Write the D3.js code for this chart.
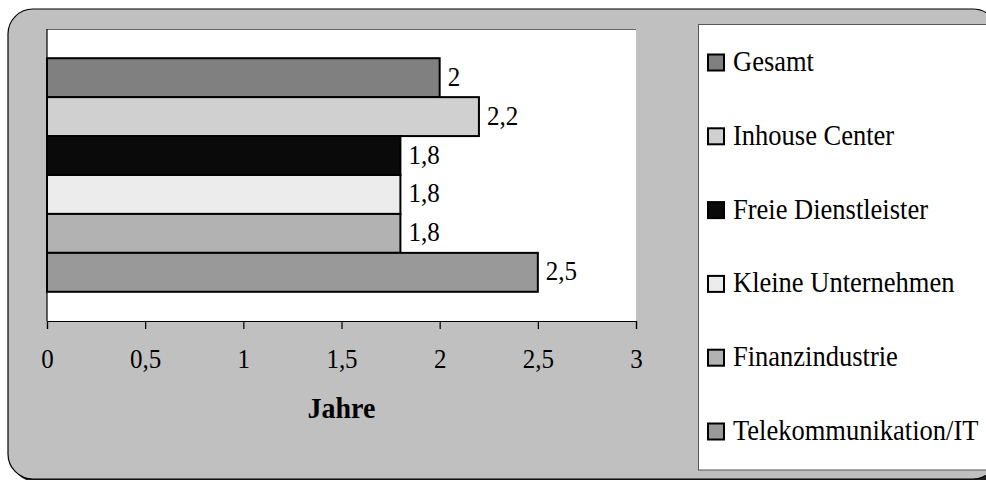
<!DOCTYPE html>
<html>
<head>
<meta charset="utf-8">
<script src="https://cdn.jsdelivr.net/npm/d3@7"></script>
<style>
  html, body { margin: 0; padding: 0; background: #ffffff; }
  svg { display: block; }
  text { font-family: "Liberation Serif", "Times New Roman", serif; fill: #000; }
</style>
</head>
<body>
<div id="chart"></div>
<script>
// ---- data ----
const categories = ["Gesamt", "Inhouse Center", "Freie Dienstleister", "Kleine Unternehmen", "Finanzindustrie", "Telekommunikation/IT"];
const values = [2, 2.2, 1.8, 1.8, 1.8, 2.5];
const colors = ["#808080", "#d0d0d0", "#0a0a0a", "#ececec", "#b2b2b2", "#999999"];
const xTicks = [0, 0.5, 1, 1.5, 2, 2.5, 3];
const xTitle = "Jahre";

// ---- layout ----
const W = 986, H = 480;
const plot = { left: 47, right: 636, top: 29, bottom: 321 };
const SY = 1.08; // slight vertical stretch of the reference's text

const svg = d3.select("#chart").append("svg").attr("width", W).attr("height", H);

// outer rounded frame with shadow
svg.append("rect").attr("x", 11).attr("y", 12).attr("width", 990).attr("height", 470)
  .attr("rx", 25).attr("ry", 25).attr("fill", "#222");
svg.append("rect").attr("x", 8).attr("y", 9).attr("width", 990).attr("height", 470)
  .attr("rx", 25).attr("ry", 25).attr("fill", "#c0c0c0").attr("stroke", "#000").attr("stroke-width", 1.2);

// plot area
svg.append("rect").attr("x", plot.left).attr("y", plot.top)
  .attr("width", plot.right - plot.left).attr("height", plot.bottom - plot.top)
  .attr("fill", "#fff");
svg.append("line").attr("x1", plot.left).attr("x2", plot.right)
  .attr("y1", plot.top + 0.5).attr("y2", plot.top + 0.5)
  .attr("stroke", "#666").attr("stroke-width", 1);

const fmtLocale = d3.formatLocale({ decimal: ",", thousands: ".", grouping: [3], currency: ["", "€"] });
const fmt = fmtLocale.format("~g");

const x = d3.scaleLinear().domain([0, 3]).range([plot.left, plot.right]);
const y = d3.scaleBand().domain(categories).range([plot.top, plot.bottom]).paddingInner(0).paddingOuter(0.75);

// bars
svg.append("g").selectAll("rect").data(categories).join("rect")
  .attr("x", x(0))
  .attr("y", d => y(d))
  .attr("width", (d, i) => x(values[i]) - x(0))
  .attr("height", y.bandwidth())
  .attr("fill", (d, i) => colors[i])
  .attr("stroke", "#000").attr("stroke-width", 2);

// value labels
svg.append("g").selectAll("text").data(categories).join("text")
  .attr("transform", (d, i) => `translate(${x(values[i]) + 8},${y(d) + y.bandwidth() / 2 + 8}) scale(1,${SY})`)
  .attr("font-size", 25)
  .text((d, i) => fmt(values[i]));

// y axis line
svg.append("line").attr("x1", plot.left).attr("x2", plot.left)
  .attr("y1", plot.top).attr("y2", plot.bottom)
  .attr("stroke", "#000").attr("stroke-width", 1.2);

// x axis
const xAxis = d3.axisBottom(x).tickValues(xTicks).tickSize(8).tickPadding(0).tickFormat(fmt);
const gx = svg.append("g").attr("transform", `translate(0,${plot.bottom})`).call(xAxis);
gx.select(".domain").attr("stroke", "#000").attr("stroke-width", 1.2);
gx.selectAll(".tick line").attr("stroke", "#000").attr("stroke-width", 1.2);
gx.selectAll(".tick text")
  .attr("y", null).attr("dy", null)
  .attr("transform", `translate(0,47) scale(1,${SY})`)
  .attr("font-family", "Liberation Serif, Times New Roman, serif")
  .attr("font-size", 25).attr("fill", "#000");

svg.append("text")
  .attr("transform", `translate(${(plot.left + plot.right) / 2},418) scale(1,${SY})`)
  .attr("text-anchor", "middle")
  .attr("font-size", 28).attr("font-weight", "bold")
  .text(xTitle);

// legend
const lg = svg.append("g");
lg.append("rect").attr("x", 698.5).attr("y", 24.5).attr("width", 300).attr("height", 445.5)
  .attr("fill", "#fff").attr("stroke", "#555").attr("stroke-width", 1);
const legendY = d3.scalePoint().domain(categories).range([62.5, 431.5]);
const items = lg.selectAll("g.item").data(categories).join("g").attr("class", "item")
  .attr("transform", d => `translate(0,${legendY(d)})`);
items.append("rect").attr("x", 708).attr("y", -8).attr("width", 16).attr("height", 16)
  .attr("fill", (d, i) => colors[i]).attr("stroke", "#000").attr("stroke-width", 2);
items.append("text").attr("transform", `translate(733,8.5) scale(1,${SY})`).attr("font-size", 26.5).text(d => d);
</script>
</body>
</html>
